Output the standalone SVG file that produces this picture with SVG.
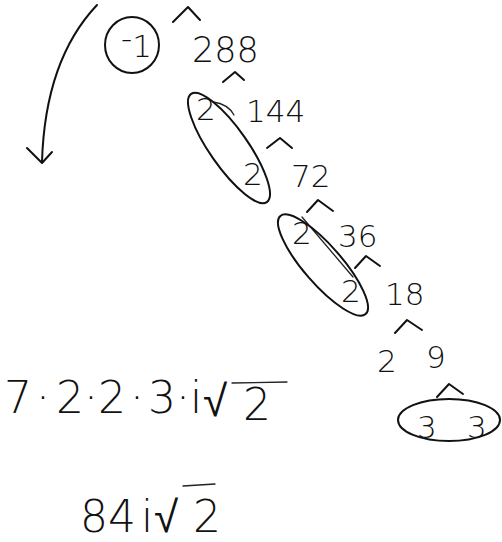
<svg xmlns="http://www.w3.org/2000/svg" width="502" height="542" viewBox="0 0 502 542">
<style>
.ink{fill:none;stroke:#111;stroke-width:2;stroke-linecap:round;stroke-linejoin:round}
.thin{fill:none;stroke:#222;stroke-width:1.3;stroke-linecap:round}
text{font-family:"DejaVu Sans","Liberation Sans",sans-serif;font-weight:200;fill:#111}
.n{font-size:31px}
.f{font-size:44px}
</style>
<rect width="502" height="542" fill="#fff"/>
<g id="connectors">
<path class="ink" d="M97,5 Q45,60 42,162"/>
<path class="ink" d="M27,148 L42,163 L52,152"/>
<path class="ink" d="M173,22 L188,7 L200,20"/>
<path class="ink" d="M223,82 L235,72 L244,80"/>
<path class="ink" d="M267,148 L280,138 L292,148"/>
<path class="ink" d="M307,212 L318,200 L333,211"/>
<path class="ink" d="M355,268 L366,256 L380,266"/>
<path class="ink" d="M395,333 L407,320 L422,330"/>
<path class="ink" d="M437,397 L449,384 L463,394"/>
<path class="thin" d="M213,102 Q228,104 234,115"/>
<path class="thin" d="M302,217 L353,277"/>
</g>
<g id="node-minus1">
<ellipse class="ink" cx="132" cy="45" rx="27" ry="28"/>
<text class="n" x="121" y="57"><tspan dy="-8">-</tspan><tspan dy="8">1</tspan></text>
</g>
<g id="node-288"><text x="192" y="62" style="font-size:35px">288</text></g>
<g id="node-pair1">
<ellipse class="ink" cx="229" cy="148" rx="66" ry="19" transform="rotate(55 229 148)"/>
<text class="n" x="196" y="120">2</text>
<text class="n" x="243" y="185">2</text>
</g>
<g id="node-144"><text class="n" x="246" y="122">144</text></g>
<g id="node-72"><text class="n" x="291" y="187">72</text></g>
<g id="node-pair2">
<ellipse class="ink" cx="323" cy="265" rx="65" ry="19" transform="rotate(49 323 265)"/>
<text class="n" x="292" y="244">2</text>
<text class="n" x="341" y="302">2</text>
</g>
<g id="node-36"><text class="n" x="338" y="247">36</text></g>
<g id="node-18"><text class="n" x="385" y="305">18</text></g>
<g id="node-2"><text class="n" x="377" y="372">2</text></g>
<g id="node-9"><text class="n" x="426" y="368">9</text></g>
<g id="node-33">
<ellipse class="ink" cx="449" cy="420" rx="51" ry="21"/>
<text class="n" x="417" y="438">3</text>
<text class="n" x="467" y="438">3</text>
</g>
<g id="formula1">
<text class="f" x="4" y="413">7</text>
<text class="f" x="36" y="413">·</text>
<text class="f" x="56" y="413">2</text>
<text class="f" x="84" y="413">·</text>
<text class="f" x="98" y="413">2</text>
<text class="f" x="130" y="413">·</text>
<text class="f" x="148" y="413">3</text>
<text class="f" x="176" y="413">·</text>
<text class="f" x="190" y="413">i</text>
<text class="f" x="203" y="416">√</text>
<text class="f" x="243" y="420">2</text>
<path class="thin" d="M232,383 L287,382"/>
</g>
<g id="formula2">
<text class="f" x="80" y="532">8</text>
<text class="f" x="108" y="532">4</text>
<text class="f" x="141" y="532">i</text>
<text class="f" x="154" y="532">√</text>
<text class="f" x="193" y="532">2</text>
<path class="thin" d="M183,486 L215,484"/>
</g>
</svg>
